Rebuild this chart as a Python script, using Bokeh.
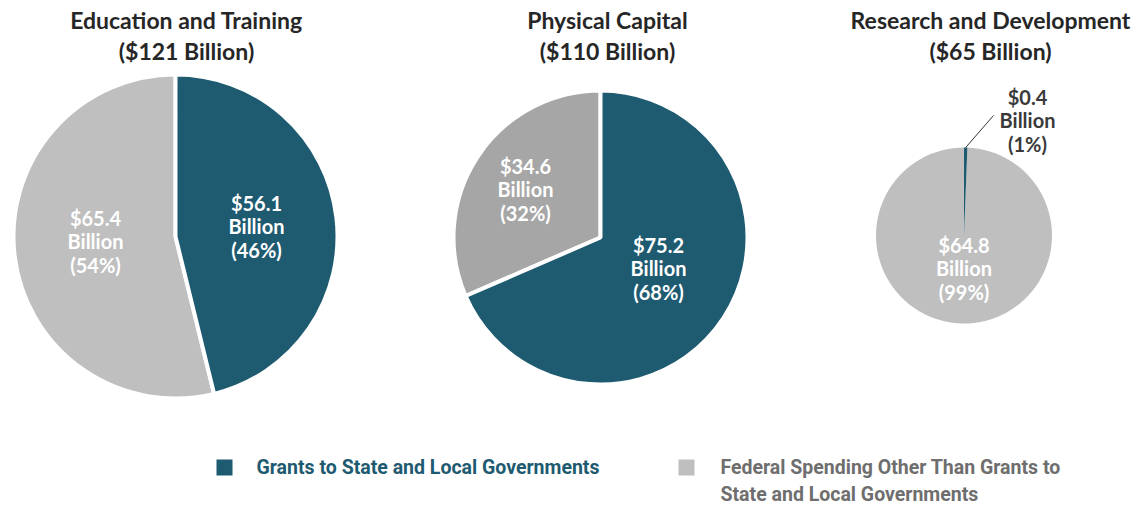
import math
from bokeh.plotting import figure
from bokeh.models import Range1d
from bokeh.core.properties import value
from bokeh.embed import file_html
from bokeh.resources import INLINE

# ---------------- data ----------------
categories = ["Education and Training", "Physical Capital", "Research and Development"]
totals = [121, 110, 65]
grants = [56.1, 75.2, 0.4]
other = [65.4, 34.6, 64.8]
grants_pct = [46, 68, 1]
other_pct = [54, 32, 99]
series_names = ["Grants to State and Local Governments",
                "Federal Spending Other Than Grants to\nState and Local Governments"]

# ---------------- styles / layout ----------------
TEAL = "#1e5a70"
GREY = ["#bfbfbf", "#a6a6a6", "#bfbfbf"]
TITLE_COL = "#262626"
W, H = 1135, 506

def X(px):
    return px

def Y(py):
    return H - py

centers = [(175, 236), (600, 237), (963.5, 235)]
radii = [162, 147, 88]
gap = [4, 4, 0]
title_pos = [(186, 35), (607, 35), (990, 35)]
# label block centres relative to pie centre (image px)
grant_lab_off = [(81, -10), (58, 31), None]
other_lab_off = [(-80, 5), (-75, -48), (0, 33)]
small_lab_pos = (1027, 120)
leader_end = (993, 115)

FONT = "Lato"

p = figure(width=W, height=H, output_backend="svg", toolbar_location=None,
           x_range=Range1d(0, W), y_range=Range1d(0, H), min_border=0,
           tools="")
p.axis.visible = False
p.grid.visible = False
p.outline_line_color = None
p.background_fill_color = "white"
p.border_fill_color = "white"

for i, cat in enumerate(categories):
    cx, cy = centers[i]
    r = radii[i]
    tot = grants[i] + other[i]
    theta = 2 * math.pi * grants[i] / tot
    top = math.pi / 2
    lc = "white" if gap[i] else None
    lw = gap[i] if gap[i] else 0
    # other spending wedge
    p.wedge(x=[X(cx)], y=[Y(cy)], radius=r, start_angle=top, end_angle=top - theta + 2 * math.pi,
            direction="anticlock", fill_color=GREY[i], line_color=lc, line_width=lw)
    # grants wedge
    p.wedge(x=[X(cx)], y=[Y(cy)], radius=r, start_angle=top - theta, end_angle=top,
            direction="anticlock", fill_color=TEAL, line_color=lc, line_width=lw)

    # title
    tx, ty = title_pos[i]
    p.text(x=[X(tx)], y=[Y(ty)], text=[f"{cat}\n(${totals[i]} Billion)"],
           text_font=value(FONT), text_font_style="bold", text_font_size="23px",
           text_color=TITLE_COL, text_align="center", text_baseline="middle",
           text_line_height=1.1)

    lab_style = dict(text_font=value(FONT), text_font_style="bold", text_font_size="20px",
                     text_align="center", text_baseline="middle", text_line_height=0.98)
    # other label
    ox, oy = other_lab_off[i]
    p.text(x=[X(cx + ox)], y=[Y(cy + oy)],
           text=[f"${other[i]}\nBillion\n({other_pct[i]}%)"],
           text_color="white", **lab_style)

    # grants label
    if grant_lab_off[i] is not None:
        gx, gy = grant_lab_off[i]
        p.text(x=[X(cx + gx)], y=[Y(cy + gy)],
               text=[f"${grants[i]}\nBillion\n({grants_pct[i]}%)"],
               text_color="white", **lab_style)
    else:
        mid = top - theta / 2
        sx = X(cx) + r * math.cos(mid)
        sy = Y(cy) + r * math.sin(mid)
        p.segment(x0=[sx], y0=[sy], x1=[X(leader_end[0])], y1=[Y(leader_end[1])],
                  line_color="#333333", line_width=1)
        lx, ly = small_lab_pos
        p.text(x=[X(lx)], y=[Y(ly)],
               text=[f"${grants[i]}\nBillion\n({grants_pct[i]}%)"],
               text_color="#3a3a3a", **lab_style)

# ---------------- legend ----------------
p.scatter(x=[X(224), X(686)], y=[Y(467), Y(467)], marker="square", size=16,
          fill_color=[TEAL, GREY[0]], line_color=None)
p.text(x=[X(256)], y=[Y(467)], text=[series_names[0]],
       text_font=value("Roboto"), text_font_style="bold", text_font_size="19.5px",
       text_color=TEAL, text_align="left", text_baseline="middle")
p.text(x=[X(720)], y=[Y(480.5)], text=[series_names[1]],
       text_font=value("Roboto"), text_font_style="bold", text_font_size="19.5px",
       text_color="#6e6e6e", text_align="left", text_baseline="middle",
       text_line_height=1.2)

open("out.html", "w").write(file_html(p, INLINE))
